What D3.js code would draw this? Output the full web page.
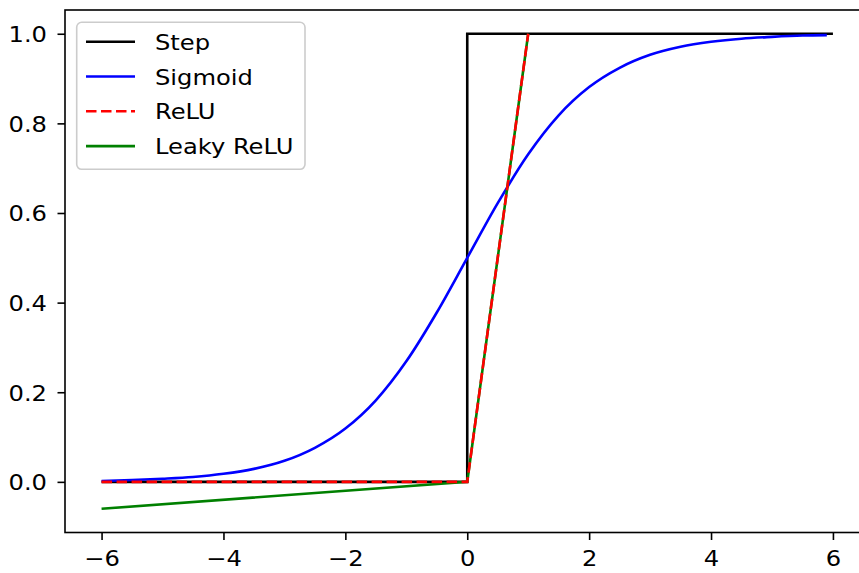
<!DOCTYPE html>
<html>
<head>
<meta charset="utf-8">
<script src="https://cdn.jsdelivr.net/npm/d3@7/dist/d3.min.js"></script>
<style>
  html, body { margin: 0; padding: 0; background: #fff; overflow: hidden; }
  svg { display: block; overflow: hidden; }
  text { font-family: "DejaVu Sans", sans-serif; fill: #000; }
</style>
</head>
<body>
<svg id="chart" width="859" height="573"></svg>
<script>
// Activation functions over x in [-6, 6]
const stepX = [-6, 0, 0, 6];
const stepY = [0, 0, 1, 1];

const sigmoidX = [-6, -5.5, -5, -4.5, -4, -3.5, -3, -2.5, -2, -1.5, -1, -0.5,
                  0, 0.5, 1, 1.5, 2, 2.5, 3, 3.5, 4, 4.5, 5, 5.5, 5.9];
const sigmoidY = [0.002, 0.004, 0.007, 0.011, 0.018, 0.029, 0.047, 0.076, 0.119, 0.182, 0.269, 0.378,
                  0.5, 0.622, 0.731, 0.818, 0.881, 0.924, 0.953, 0.971, 0.982, 0.989, 0.993, 0.996, 0.997];

const reluX = [-6, 0, 1];
const reluY = [0, 0, 1];

const leakyX = [-6, 0, 1];
const leakyY = [-0.06, 0, 1];

const xTicks = [-6, -4, -2, 0, 2, 4, 6];
const yTicks = [0.0, 0.2, 0.4, 0.6, 0.8, 1.0];

const legendLabels = ["Step", "Sigmoid", "ReLU", "Leaky ReLU"];

const svg = d3.select("#chart");
const FS = 22, SX = 1.1;   // label font size and horizontal glyph stretch

const x = d3.scaleLinear().domain([-6.6, 6.6]).range([65, 869.5]);
const y = d3.scaleLinear().domain([-0.113, 1.053]).range([532.5, 10]);

const zip = (xs, ys) => xs.map((v, i) => [v, ys[i]]);

const line = d3.line().x(d => x(d[0])).y(d => y(d[1]));
const smooth = d3.line().x(d => x(d[0])).y(d => y(d[1])).curve(d3.curveMonotoneX);

const series = {
  step:    { data: zip(stepX, stepY),       color: "#000000", dash: null, gen: line },
  sigmoid: { data: zip(sigmoidX, sigmoidY), color: "#0000ff", dash: null, gen: smooth },
  relu:    { data: zip(reluX, reluY),       color: "#ff0000", dash: "10.5,4.5", gen: line },
  leaky:   { data: zip(leakyX, leakyY),     color: "#008000", dash: null, gen: line }
};

const plot = svg.append("g");
// Leaky ReLU sits beneath the dashed ReLU so its dashes remain visible
["step", "sigmoid", "leaky", "relu"].forEach(k => {
  const s = series[k];
  plot.append("path")
    .attr("d", s.gen(s.data))
    .attr("fill", "none")
    .attr("stroke", s.color)
    .attr("stroke-width", 2.6)
    .attr("stroke-linejoin", "miter")
    .attr("stroke-dasharray", s.dash);
});

// Axes
const fmtX = d => (d < 0 ? "\u2212" + Math.abs(d) : String(d));
const xAxis = d3.axisBottom(x).tickValues(xTicks).tickFormat(fmtX).tickSize(7.5).tickPadding(0);
const yAxis = d3.axisLeft(y).tickValues(yTicks).tickFormat(d3.format(".1f")).tickSize(7.5).tickPadding(0);

const gx = svg.append("g").attr("transform", `translate(0,${y.range()[0]})`).call(xAxis);
const gy = svg.append("g").attr("transform", `translate(${x.range()[0]},0)`).call(yAxis);

[gx, gy].forEach(g => {
  g.select(".domain").remove();
  g.selectAll(".tick line").attr("stroke", "#000").attr("stroke-width", 1.6);
  g.selectAll(".tick text").attr("font-size", FS).attr("font-family", "DejaVu Sans, sans-serif").attr("fill", "#000");
});
gx.selectAll(".tick text").attr("y", 0).attr("dy", 0)
  .attr("transform", `translate(0,33.5) scale(${SX},1)`);
gy.selectAll(".tick text").attr("x", 0).attr("dy", 0)
  .attr("transform", `translate(-18,8) scale(${SX},1)`);

// Frame (top, left, bottom spines; right edge lies beyond the view)
svg.append("rect")
  .attr("x", x.range()[0]).attr("y", y.range()[1])
  .attr("width", x.range()[1] - x.range()[0])
  .attr("height", y.range()[0] - y.range()[1])
  .attr("fill", "none").attr("stroke", "#000").attr("stroke-width", 1.6);

// Legend
const lg = svg.append("g");
lg.append("rect")
  .attr("x", 76.7).attr("y", 22.3).attr("width", 228.3).attr("height", 147)
  .attr("rx", 5).attr("ry", 5)
  .attr("fill", "#fff").attr("fill-opacity", 0.8)
  .attr("stroke", "#cccccc").attr("stroke-width", 1.6);

const legendKeys = ["step", "sigmoid", "relu", "leaky"];
legendKeys.forEach((k, i) => {
  const cy = 41.7 + i * 34.8;
  const s = series[k];
  lg.append("line")
    .attr("x1", 86).attr("x2", 135).attr("y1", cy).attr("y2", cy)
    .attr("stroke", s.color).attr("stroke-width", 2.6)
    .attr("stroke-dasharray", s.dash);
  lg.append("text")
    .attr("transform", `translate(155,${cy + 8}) scale(${SX},1)`)
    .attr("font-size", FS)
    .text(legendLabels[i]);
});
</script>
</body>
</html>
